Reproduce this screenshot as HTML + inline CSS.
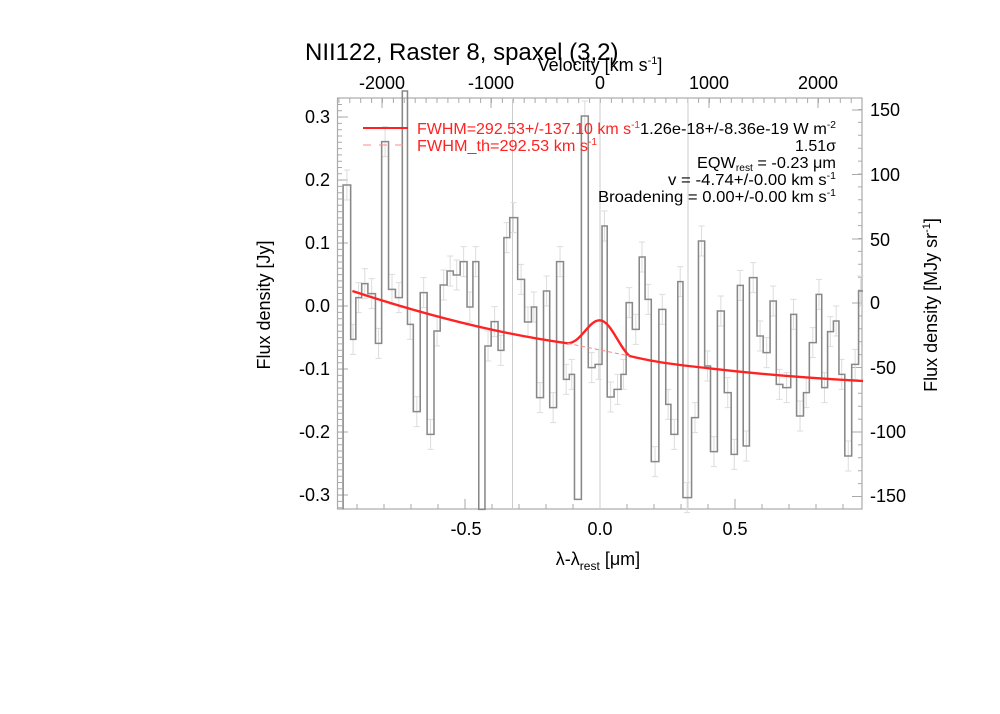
<!DOCTYPE html>
<html><head><meta charset="utf-8"><style>
html,body{margin:0;padding:0;background:#fff;}
svg{display:block;font-family:"Liberation Sans",sans-serif;}
</style></head><body>
<svg width="1000" height="714" viewBox="0 0 1000 714" xmlns="http://www.w3.org/2000/svg">
<rect width="1000" height="714" fill="#fff"/>
<text x="305" y="60" font-size="24" fill="#000">NII122, Raster 8, spaxel (3,2)</text>
<text x="600" y="71" font-size="18" text-anchor="middle">Velocity [km s<tspan dy="-7" font-size="11">-1</tspan><tspan dy="7">]</tspan></text>
<g font-size="18" text-anchor="middle">
<text x="382" y="89">-2000</text><text x="491" y="89">-1000</text><text x="600" y="89">0</text><text x="709" y="89">1000</text><text x="818" y="89">2000</text>
</g>
<g font-size="18" text-anchor="end">
<text x="330" y="123">0.3</text><text x="330" y="186">0.2</text><text x="330" y="249">0.1</text><text x="330" y="312">0.0</text><text x="330" y="375">-0.1</text><text x="330" y="438">-0.2</text><text x="330" y="501">-0.3</text>
</g>
<g font-size="18" text-anchor="start">
<text x="870" y="116">150</text><text x="870" y="181">100</text><text x="870" y="246">50</text><text x="870" y="309">0</text><text x="870" y="374">-50</text><text x="870" y="438">-100</text><text x="870" y="502">-150</text>
</g>
<g font-size="18" text-anchor="middle">
<text x="466" y="535">-0.5</text><text x="600" y="535">0.0</text><text x="735" y="535">0.5</text>
</g>
<text x="598" y="565" font-size="18" text-anchor="middle">λ-λ<tspan dy="5" font-size="12">rest</tspan><tspan dy="-5"> [μm]</tspan></text>
<text transform="translate(270,305) rotate(-90)" font-size="18" text-anchor="middle">Flux density [Jy]</text>
<text transform="translate(937,305) rotate(-90)" font-size="18" text-anchor="middle">Flux density [MJy sr<tspan dy="-7" font-size="11">-1</tspan><tspan dy="7">]</tspan></text>

<rect x="337.5" y="98" width="524.5" height="411" fill="none" stroke="#aaa" stroke-width="1.2"/>
<g stroke="#aaa" fill="none">
<line x1="338.4" y1="100.5" x2="862" y2="100.5" stroke-width="5" stroke-dasharray="1 9.9"/>
<line x1="356.5" y1="506.5" x2="862" y2="506.5" stroke-width="5" stroke-dasharray="1 26"/>
<line x1="340" y1="104" x2="340" y2="509" stroke-width="4" stroke-dasharray="1 5.3"/>
<line x1="860" y1="109" x2="860" y2="509" stroke-width="4" stroke-dasharray="1 11.9"/>
<path stroke-width="1" d="M382,98v10M491,98v10M600,98v10M709,98v10M818,98v10M465,509v-10M600,509v-10M735,509v-10M338,117h10M338,180h10M338,243h10M338,306h10M338,369h10M338,432h10M338,495h10M862,110h-10M862,174.5h-10M862,239h-10M862,303h-10M862,367.5h-10M862,432h-10M862,496.5h-10"/>
</g>
<g stroke="#ccc" stroke-width="1">
<line x1="512.5" y1="98" x2="512.5" y2="509"/><line x1="600" y1="98" x2="600" y2="509"/><line x1="688" y1="98" x2="688" y2="509"/>
</g>
<g transform="translate(330,91) scale(0.34435,0.33333)">
<path fill="none" stroke="#ddd" stroke-width="3" d="M49,237v90m-9,-90h18m-18,90h18 M67,700v90m-9,-90h18m-18,90h18 M83,575v90m-9,-90h18m-18,90h18 M101,533v90m-9,-90h18m-18,90h18 M121,563v90m-9,-90h18m-18,90h18 M141,712v90m-9,-90h18m-18,90h18 M160,107v90m-9,-90h18m-18,90h18 M180,550v90m-9,-90h18m-18,90h18 M200,575v90m-9,-90h18m-18,90h18 M233,655v90m-9,-90h18m-18,90h18 M252,917v90m-9,-90h18m-18,90h18 M272,560v90m-9,-90h18m-18,90h18 M292,985v90m-9,-90h18m-18,90h18 M311,675v90m-9,-90h18m-18,90h18 M330,537v90m-9,-90h18m-18,90h18 M349,495v90m-9,-90h18m-18,90h18 M368,507v90m-9,-90h18m-18,90h18 M388,467v90m-9,-90h18m-18,90h18 M406,603v90m-9,-90h18m-18,90h18 M423,467v90m-9,-90h18m-18,90h18 M459,720v90m-9,-90h18m-18,90h18 M478,647v90m-9,-90h18m-18,90h18 M496,733v90m-9,-90h18m-18,90h18 M513,395v90m-9,-90h18m-18,90h18 M533,335v90m-9,-90h18m-18,90h18 M555,520v90m-9,-90h18m-18,90h18 M575,648v90m-9,-90h18m-18,90h18 M592,603v90m-9,-90h18m-18,90h18 M610,875v90m-9,-90h18m-18,90h18 M629,555v90m-9,-90h18m-18,90h18 M648,905v90m-9,-90h18m-18,90h18 M668,467v90m-9,-90h18m-18,90h18 M686,820v90m-9,-90h18m-18,90h18 M702,805v90m-9,-90h18m-18,90h18 M740,30v90m-9,-90h18m-18,90h18 M760,785v90m-9,-90h18m-18,90h18 M780,775v90m-9,-90h18m-18,90h18 M797,360v90m-9,-90h18m-18,90h18 M815,873v90m-9,-90h18m-18,90h18 M835,850v90m-9,-90h18m-18,90h18 M852,805v90m-9,-90h18m-18,90h18 M869,590v90m-9,-90h18m-18,90h18 M888,670v90m-9,-90h18m-18,90h18 M906,453v90m-9,-90h18m-18,90h18 M924,580v90m-9,-90h18m-18,90h18 M944,1067v90m-9,-90h18m-18,90h18 M965,610v90m-9,-90h18m-18,90h18 M982,895v90m-9,-90h18m-18,90h18 M1000,985v90m-9,-90h18m-18,90h18 M1017,527v90m-9,-90h18m-18,90h18 M1037,1175v90m-9,-90h18m-18,90h18 M1060,935v90m-9,-90h18m-18,90h18 M1079,405v90m-9,-90h18m-18,90h18 M1096,780v90m-9,-90h18m-18,90h18 M1115,1037v90m-9,-90h18m-18,90h18 M1135,615v90m-9,-90h18m-18,90h18 M1155,860v90m-9,-90h18m-18,90h18 M1174,1045v90m-9,-90h18m-18,90h18 M1191,538v90m-9,-90h18m-18,90h18 M1209,1020v90m-9,-90h18m-18,90h18 M1229,515v90m-9,-90h18m-18,90h18 M1249,690v90m-9,-90h18m-18,90h18 M1268,740v90m-9,-90h18m-18,90h18 M1287,585v90m-9,-90h18m-18,90h18 M1305,835v90m-9,-90h18m-18,90h18 M1326,845v90m-9,-90h18m-18,90h18 M1346,625v90m-9,-90h18m-18,90h18 M1365,930v90m-9,-90h18m-18,90h18 M1383,860v90m-9,-90h18m-18,90h18 M1402,710v90m-9,-90h18m-18,90h18 M1420,565v90m-9,-90h18m-18,90h18 M1436,845v90m-9,-90h18m-18,90h18 M1453,677v90m-9,-90h18m-18,90h18 M1470,645v90m-9,-90h18m-18,90h18 M1486,805v90m-9,-90h18m-18,90h18 M1505,1050v90m-9,-90h18m-18,90h18 M1525,775v90m-9,-90h18m-18,90h18 M1541,555v90m-9,-90h18m-18,90h18"/>
<polyline fill="none" stroke="#888" stroke-width="4.5" points="38,1255 38,282 60,282 60,745 75,745 75,620 92,620 92,578 110,578 110,608 132,608 132,757 150,757 150,152 170,152 170,595 190,595 190,620 210,620 210,0 225,0 225,700 242,700 242,962 262,962 262,605 282,605 282,1030 302,1030 302,720 320,720 320,582 340,582 340,540 358,540 358,552 378,552 378,512 398,512 398,648 415,648 415,512 432,512 432,1255 450,1255 450,765 468,765 468,692 488,692 488,778 505,778 505,440 522,440 522,380 545,380 545,565 565,565 565,693 585,693 585,648 600,648 600,920 620,920 620,600 638,600 638,950 658,950 658,512 678,512 678,865 695,865 695,850 710,850 710,1225 730,1225 730,75 750,75 750,830 770,830 770,820 790,820 790,405 805,405 805,918 825,918 825,895 845,895 845,850 860,850 860,635 878,635 878,715 898,715 898,498 915,498 915,625 933,625 933,1112 955,1112 955,655 975,655 975,940 990,940 990,1030 1010,1030 1010,572 1025,572 1025,1220 1050,1220 1050,980 1070,980 1070,450 1088,450 1088,825 1105,825 1105,1082 1125,1082 1125,660 1145,660 1145,905 1165,905 1165,1090 1183,1090 1183,583 1200,583 1200,1065 1218,1065 1218,560 1240,560 1240,735 1258,735 1258,785 1278,785 1278,630 1296,630 1296,880 1315,880 1315,890 1338,890 1338,670 1355,670 1355,975 1375,975 1375,905 1392,905 1392,755 1412,755 1412,610 1428,610 1428,890 1445,890 1445,722 1462,722 1462,690 1478,690 1478,850 1495,850 1495,1095 1515,1095 1515,820 1535,820 1535,600 1548,600"/>
<path d="M65,600 C300,680 500,730 690,757 C730,755 750,688 783,688 C815,688 840,770 870,795 C950,815 1000,820 1100,832 C1250,850 1400,862 1548,870" fill="none" stroke="#f22" stroke-width="7"/>
<path d="M690,757 L870,795" fill="none" stroke="#f88" stroke-width="3" stroke-dasharray="12,8"/>
</g>
<line x1="363" y1="128" x2="408" y2="128" stroke="#f22" stroke-width="2"/>
<line x1="363" y1="145" x2="408" y2="145" stroke="#f88" stroke-width="1" stroke-dasharray="8,8"/>
<g font-size="16" fill="#f22">
<text x="417" y="134" textLength="223" lengthAdjust="spacingAndGlyphs">FWHM=292.53+/-137.10 km s<tspan dy="-6" font-size="10">-1</tspan></text>
<text x="417" y="151" textLength="180" lengthAdjust="spacingAndGlyphs">FWHM_th=292.53 km s<tspan dy="-6" font-size="10">-1</tspan></text>
</g>
<g font-size="16" fill="#000" text-anchor="end">
<text x="836" y="134" textLength="196" lengthAdjust="spacingAndGlyphs">1.26e-18+/-8.36e-19 W m<tspan dy="-6" font-size="10">-2</tspan></text>
<text x="836" y="151">1.51σ</text>
<text x="836" y="168" textLength="139" lengthAdjust="spacingAndGlyphs">EQW<tspan dy="3" font-size="10">rest</tspan><tspan dy="-3"> = -0.23 μm</tspan></text>
<text x="836" y="185" textLength="168" lengthAdjust="spacingAndGlyphs">v = -4.74+/-0.00 km s<tspan dy="-6" font-size="10">-1</tspan></text>
<text x="836" y="202" textLength="238" lengthAdjust="spacingAndGlyphs">Broadening = 0.00+/-0.00 km s<tspan dy="-6" font-size="10">-1</tspan></text>
</g>
</svg>
</body></html>
